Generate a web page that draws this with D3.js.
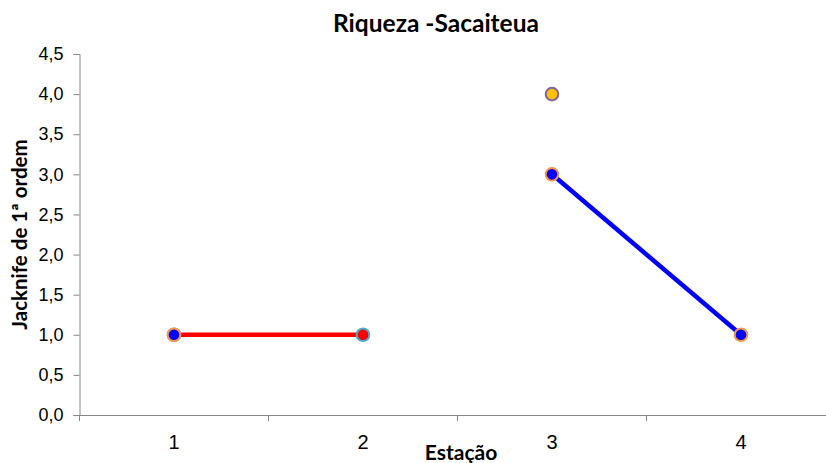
<!DOCTYPE html>
<html>
<head>
<meta charset="utf-8">
<script src="https://cdn.jsdelivr.net/npm/d3@7"></script>
<style>
  html, body { margin: 0; padding: 0; background: #fff; }
  svg { display: block; font-family: Lato, "Open Sans", sans-serif; }
</style>
</head>
<body>
<svg id="chart" width="826" height="463"></svg>
<script>
// Estações (categorias do eixo X)
const estacoes = ["1", "2", "3", "4"];
// Séries de Jacknife de 1ª ordem (null = sem valor)
const serieVermelha = [1, 1, null, null];
const serieAzul = [1, null, 3, 1];
const serieAmarela = [null, null, 4, null];
// Marcas do eixo Y
const yTicks = [0, 0.5, 1, 1.5, 2, 2.5, 3, 3.5, 4, 4.5];

const svg = d3.select("#chart");
const margin = { left: 79.5, right: -9.5, top: 54, bottom: 48 };
const W = 826, H = 463;

const x = d3.scaleBand().domain(estacoes).range([margin.left, W - margin.right]).padding(0);
const y = d3.scaleLinear().domain([0, 4.5]).range([H - margin.bottom, margin.top]);
const fmt = d => d3.format(".1f")(d).replace(".", ",");

// Eixo Y
const yAxis = svg.append("g")
  .attr("transform", `translate(${margin.left},0)`)
  .call(d3.axisLeft(y).tickValues(yTicks).tickFormat(fmt).tickSize(6).tickPadding(10));
yAxis.select(".domain").attr("stroke", "#868686");
yAxis.selectAll(".tick line").attr("stroke", "#868686");
yAxis.selectAll(".tick text").attr("font-size", 18).attr("fill", "#000");

// Eixo X
const xTickPos = [0, 1, 2, 3, 4].map(i => margin.left + i * x.step());
const xAxis = svg.append("g")
  .attr("transform", `translate(0,${y(0)})`)
  .call(d3.axisBottom(x).tickSize(0).tickPadding(20));
xAxis.select(".domain").attr("stroke", "#868686");
xAxis.selectAll(".tick text").attr("font-size", 20).attr("fill", "#000");
xAxis.selectAll(".bandTick").data(xTickPos).enter().append("line")
  .attr("x1", d => d).attr("x2", d => d).attr("y1", 0).attr("y2", 6)
  .attr("stroke", "#868686");

// Linhas
function desenhaLinha(valores, cor) {
  const line = d3.line()
    .defined(d => d != null)
    .x((d, i) => x(estacoes[i]) + x.bandwidth() / 2)
    .y(d => y(d));
  svg.append("path").datum(valores)
    .attr("fill", "none").attr("stroke", cor).attr("stroke-width", 4.5)
    .attr("d", line);
}
function desenhaMarcadores(valores, fill, stroke) {
  svg.append("g").selectAll("circle")
    .data(valores.map((v, i) => ({ v, i })).filter(d => d.v != null))
    .enter().append("circle")
    .attr("cx", d => x(estacoes[d.i]) + x.bandwidth() / 2)
    .attr("cy", d => y(d.v))
    .attr("r", 6.3)
    .attr("fill", fill).attr("stroke", stroke).attr("stroke-width", 2);
}

desenhaLinha(serieVermelha, "#ff0000");
desenhaMarcadores(serieVermelha, "#ff0000", "#4bacc6");
desenhaLinha(serieAzul, "#0000ff");
desenhaMarcadores(serieAzul, "#0000ff", "#f79646");
desenhaMarcadores(serieAmarela, "#ffc000", "#8064a2");

// Títulos
svg.append("text").attr("x", 436).attr("y", 32).attr("text-anchor", "middle")
  .attr("font-size", 24.5).attr("font-weight", "bold").text("Riqueza -Sacaiteua");
svg.append("text").attr("x", 461).attr("y", 460).attr("text-anchor", "middle")
  .attr("font-size", 21).attr("font-weight", "bold").text("Estação");
svg.append("text")
  .attr("transform", `translate(27,${(y(0) + y(4.5)) / 2}) rotate(-90)`)
  .attr("text-anchor", "middle")
  .attr("font-size", 20.5).attr("font-weight", "bold").text("Jacknife de 1ª ordem");
</script>
</body>
</html>
